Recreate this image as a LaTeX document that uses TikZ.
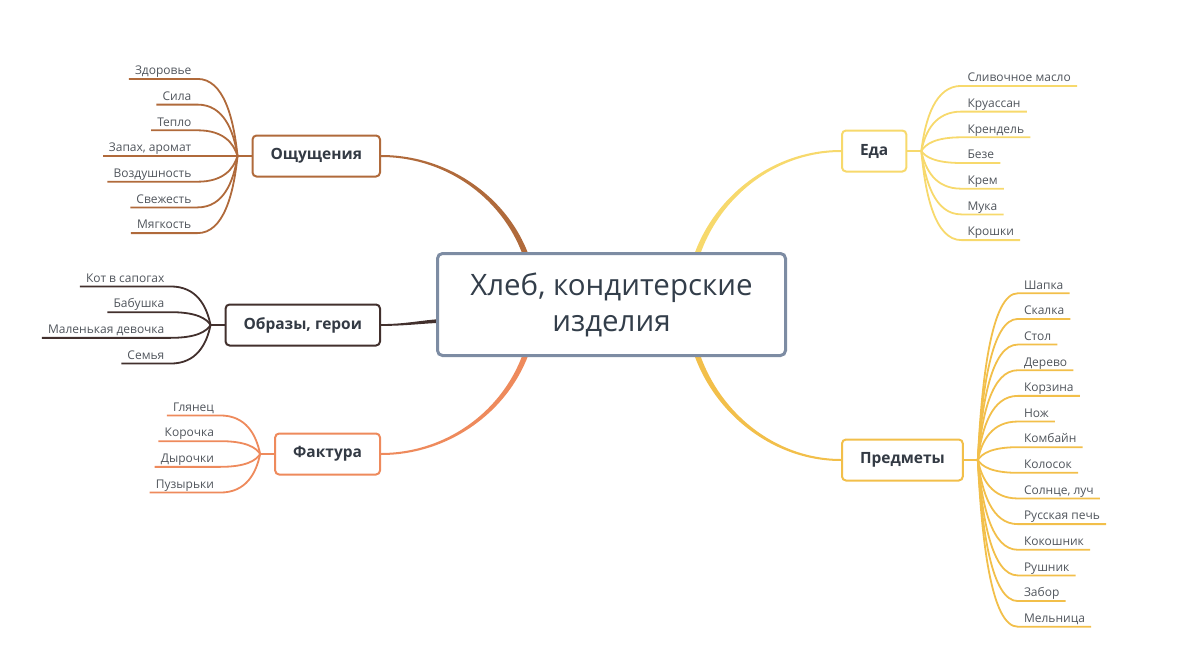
\documentclass[tikz,border=0pt]{standalone}
\usepackage{fontspec}
\setmainfont{Open Sans}
\usetikzlibrary{calc}
\usetikzlibrary{backgrounds}
\definecolor{hubline}{HTML}{7D8CA3}
\definecolor{hubtext}{HTML}{333E4A}
\definecolor{topictext}{HTML}{333A44}
\definecolor{leaftext}{HTML}{50555C}
\definecolor{owcol}{HTML}{B06A3B}
\definecolor{obcol}{HTML}{42302D}
\definecolor{fkcol}{HTML}{EE8A5C}
\definecolor{edcol}{HTML}{F7D96C}
\definecolor{prcol}{HTML}{F2BF4A}

\begin{document}
\begin{tikzpicture}[x=1pt,y=-1pt,
    topic/.style={draw,rounded corners=4pt,line width=2pt,fill=white,inner xsep=18pt,
        minimum height=41pt,text=topictext,font=\fontsize{15.5}{19}\selectfont\bfseries},
    leaf/.style={inner xsep=6pt,inner ysep=4pt,text depth=0pt,text=leaftext,
        font=\fontsize{12}{14}\selectfont},
    twig/.style={line width=1.8pt}]
    \useasboundingbox (0,0) rectangle (1200,672);

    \node[draw=hubline,line width=3pt,rounded corners=5pt,fill=white,minimum width=348pt,
        minimum height=102pt,align=center,text=hubtext,font=\fontsize{29.5}{36}\selectfont]
        (hub) at (611.5,304.5) {Хлеб, кондитерские\\изделия};

    \node[topic,draw=owcol,anchor=east] (ow) at (381,156) {Ощущения};
    \node[topic,draw=obcol,anchor=east] (ob) at (381,325) {Образы, герои};
    \node[topic,draw=fkcol,anchor=east] (fk) at (381,454) {Фактура};
    \node[topic,draw=edcol,anchor=west] (ed) at (841,151) {Еда};
    \node[topic,draw=prcol,anchor=west] (pr) at (841,460) {Предметы};

    \coordinate (owj) at ($(ow.west)+(-14,0)$);
    \coordinate (obj) at ($(ob.west)+(-14,0)$);
    \coordinate (fkj) at ($(fk.west)+(-14,0)$);
    \coordinate (edj) at ($(ed.east)+(14,0)$);
    \coordinate (prj) at ($(pr.east)+(14,0)$);

    \begin{scope}[on background layer]
    \fill[owcol] ($(ow.east)+(0,-1)$) .. controls +(84,0) and +(0,-84) .. ($(hub.center)+(-74,0)$)
        -- ($(hub.center)+(-80,0)$) .. controls +(0,-82) and +(82,0) .. ($(ow.east)+(0,1)$) -- cycle;
    \fill[obcol] ($(ob.east)+(0,-0.9)$) .. controls +(30,0) and +(-30,0) .. ($(hub.west)+(20,14)$)
        -- ($(hub.west)+(20,18)$) .. controls +(-30,0) and +(30,0) .. ($(ob.east)+(0,0.9)$) -- cycle;
    \fill[fkcol] ($(fk.east)+(0,1)$) .. controls +(84,0) and +(0,84) .. ($(hub.center)+(-74,0)$)
        -- ($(hub.center)+(-80,0)$) .. controls +(0,82) and +(82,0) .. ($(fk.east)+(0,-1)$) -- cycle;
    \fill[edcol] ($(ed.west)+(0,-1)$) .. controls +(-84,0) and +(0,-84) .. ($(hub.center)+(74,0)$)
        -- ($(hub.center)+(80,0)$) .. controls +(0,-82) and +(-82,0) .. ($(ed.west)+(0,1)$) -- cycle;
    \fill[prcol] ($(pr.west)+(0,1)$) .. controls +(-84,0) and +(0,84) .. ($(hub.center)+(74,0)$)
        -- ($(hub.center)+(80,0)$) .. controls +(0,82) and +(-82,0) .. ($(pr.west)+(0,-1)$) -- cycle;
    \end{scope}

    \draw[twig,owcol] (ow.west) -- (owj);
    \draw[twig,obcol] (ob.west) -- (obj);
    \draw[twig,fkcol] (fk.west) -- (fkj);
    \draw[twig,edcol] (ed.east) -- (edj);
    \draw[twig,prcol] (pr.east) -- (prj);

    % left leaves
    \foreach \lbl [count=\i] in {Здоровье,Сила,Тепло,{Запах, аромат},Воздушность,Свежесть,Мягкость}{
        \pgfmathsetmacro\dy{(\i-4)*25.7}
        \node[leaf,anchor=south east] (ow\i) at ($(owj)+(-40,\dy)$) {\lbl};
        \draw[twig,owcol] (owj) .. controls +(-4,{0.5*\dy}) and +(26,0) .. (ow\i.south east) -- (ow\i.south west);
    }
    \foreach \lbl [count=\i] in {Кот в сапогах,Бабушка,Маленькая девочка,Семья}{
        \pgfmathsetmacro\dy{(\i-2.5)*25.7}
        \node[leaf,anchor=south east] (ob\i) at ($(obj)+(-40,\dy)$) {\lbl};
        \draw[twig,obcol] (obj) .. controls +(-4,{0.5*\dy}) and +(26,0) .. (ob\i.south east) -- (ob\i.south west);
    }
    \foreach \lbl [count=\i] in {Глянец,Корочка,Дырочки,Пузырьки}{
        \pgfmathsetmacro\dy{(\i-2.5)*25.7}
        \node[leaf,anchor=south east] (fk\i) at ($(fkj)+(-40,\dy)$) {\lbl};
        \draw[twig,fkcol] (fkj) .. controls +(-4,{0.5*\dy}) and +(26,0) .. (fk\i.south east) -- (fk\i.south west);
    }

    % right leaves
    \foreach \lbl [count=\i] in {Сливочное масло,Круассан,Крендель,Безе,Крем,Мука,Крошки}{
        \pgfmathsetmacro\dy{(\i-4)*25.7+12}
        \node[leaf,anchor=south west] (ed\i) at ($(edj)+(40,\dy)$) {\lbl};
        \draw[twig,edcol] (edj) .. controls +(4,{0.5*\dy}) and +(-26,0) .. (ed\i.south west) -- (ed\i.south east);
    }
    \foreach \lbl [count=\i] in {Шапка,Скалка,Стол,Дерево,Корзина,Нож,Комбайн,Колосок,{Солнце, луч},
        Русская печь,Кокошник,Рушник,Забор,Мельница}{
        \pgfmathsetmacro\dy{(\i-7.5)*25.65}
        \node[leaf,anchor=south west] (pr\i) at ($(prj)+(40,\dy)$) {\lbl};
        \draw[twig,prcol] (prj) .. controls +(4,{0.5*\dy}) and +(-26,0) .. (pr\i.south west) -- (pr\i.south east);
    }
\end{tikzpicture}
\end{document}
